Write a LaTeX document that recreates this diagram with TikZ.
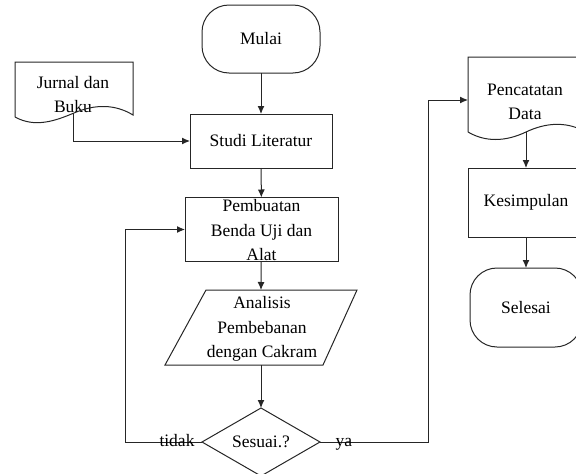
\documentclass[tikz,border=0pt]{standalone}
\usepackage{fontspec}
\setmainfont{Liberation Serif}
\usetikzlibrary{arrows.meta,shapes.geometric}
\begin{document}
\begin{tikzpicture}[x=1pt,y=-1pt,
  line width=1pt, draw=black!85,
  box/.style={draw, rectangle, inner sep=0pt, outer sep=0pt},
  term/.style={draw, rectangle, rounded corners=27pt, inner sep=0pt, outer sep=0pt},
  txt/.style={font=\fontsize{17.5}{24.5}\selectfont, align=center, inner sep=0pt},
  arr/.style={-{Latex[length=8pt,width=7pt]}},
  lab/.style={font=\fontsize{17.5}{24.5}\selectfont, inner sep=0pt, anchor=base}]
\useasboundingbox (0,0) rectangle (576,474);
\clip (0,0) rectangle (576,474);

% start
\node[term, txt, minimum width=118pt, minimum height=68pt] (mulai) at (261,39) {Mulai};

% document: Jurnal dan Buku
\node[txt] (jur) at (73,94.5) {Jurnal dan\\Buku};
\draw (15,117) -- (15,62) -- (133,62) -- (133,115)
  .. controls (115,104) and (95,104) .. (74,113)
  .. controls (55,121) and (35,128) .. (15,117);
\coordinate (jurout) at (73,113);

% Studi Literatur
\node[box, txt, minimum width=142pt, minimum height=54pt] (studi) at (261,141) {Studi Literatur};

% Pembuatan
\node[box, minimum width=153pt, minimum height=64pt] (pem) at (261.5,229.5) {};
\node[txt] (pemt) at (261.5,230.5) {Pembuatan\\Benda Uji dan\\Alat};

% Analisis (parallelogram)
\draw (206,290) -- (357,290) -- (323,365) -- (165,365) -- cycle;
\node[txt] (ana) at (262,329) {Analisis\\Pembebanan\\dengan Cakram};
\coordinate (anatop) at (261,290);
\coordinate (anabot) at (261,365);

% decision
\node[draw, diamond, aspect=1.72, minimum width=118pt, minimum height=68pt, inner sep=0pt, outer sep=0pt, txt] (ses) at (261,442) {Sesuai.?};

% Pencatatan Data (document)
\node[minimum width=116pt, minimum height=46pt, inner sep=0pt, outer sep=0pt] (pen) at (526,100) {};
\node[txt] (pent) at (525,102) {Pencatatan\\Data};
\draw (468,132) -- (468,57) -- (584,57) -- (584,131)
  .. controls (565,121) and (545,123) .. (526,132)
  .. controls (505,142) and (485,142) .. (468,132);
\coordinate (penout) at (526,132);

% Kesimpulan
\node[box, txt, minimum width=116pt, minimum height=69pt] (kes) at (526,202.5) {Kesimpulan};

% Selesai
\node[term, txt, minimum width=112pt, minimum height=79pt] (sel) at (526,307.5) {Selesai};

% connectors
\draw[arr] (mulai) -- (studi);
\draw[arr] (jurout) |- (studi.west);
\draw[arr] (studi) -- (pem);
\draw[arr] (pem) -- (anatop);
\draw[arr] (anabot) -- (ses);
\coordinate (lc) at (125,442);
\coordinate (rc) at (428,442);
\draw[arr] (ses.west) -- (lc) |- (pem.west);
\draw[arr] (ses.east) -- (rc) |- (pen.west);
\draw[arr] (penout) -- (kes);
\draw[arr] (kes) -- (sel);

% labels
\node[lab] (tidak) at (177,446.5) {tidak};
\node[lab] (ya) at (344,446.5) {ya};
\end{tikzpicture}
\end{document}
